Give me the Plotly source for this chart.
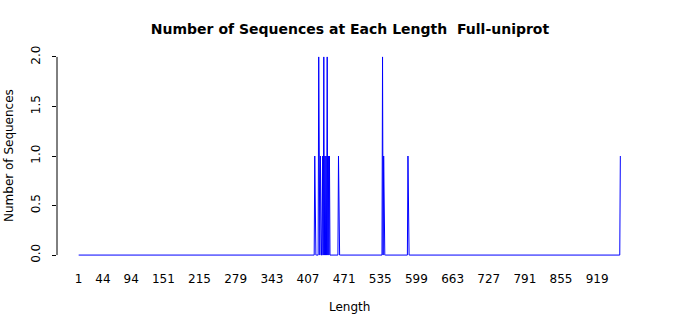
import plotly.graph_objects as go

# Data
spike_lengths = [419, 426, 429, 433, 435, 437, 439, 441, 443, 445, 461, 539, 541, 584, 960]
spike_counts  = [1,   2,   1,   1,   2,   1,   1,   2,   1,   1,   1,   2,   1,   1,   1]
min_length = 1
max_length = 960

x_tick_vals = [1, 44, 94, 151, 215, 279, 343, 407, 471, 535, 599, 663, 727, 791, 855, 919]
y_tick_vals = [0, 0.5, 1.0, 1.5, 2.0]
y_tick_text = ["0.0", "0.5", "1.0", "1.5", "2.0"]

# counts per length (zero where no sequences)
count_map = dict(zip(spike_lengths, spike_counts))
lengths = list(range(min_length, max_length + 1))
counts = [count_map.get(L, 0) for L in lengths]

font_family = "DejaVu Sans"

fig = go.Figure()
fig.add_trace(go.Scatter(
    x=lengths, y=counts, mode="lines",
    line=dict(color="#0000FF", width=1),
    hoverinfo="x+y", showlegend=False,
))

span = max_length - min_length
xr = [min_length - 0.04 * span, max_length + 0.04 * span]
yr = [-0.08, 2.08]

fig.update_layout(
    width=700, height=315,
    margin=dict(l=57, r=58, t=49, b=52),
    paper_bgcolor="white", plot_bgcolor="white",
    font=dict(family=font_family, size=12, color="black"),
    title=dict(
        text="<b>Number of Sequences at Each Length \u00a0Full-uniprot</b>",
        x=0.5, xanchor="center", y=1 - 29 / 315, yanchor="middle",
        font=dict(size=14, family=font_family, color="black"),
    ),
    xaxis=dict(
        range=xr, showgrid=False, zeroline=False, showline=False,
        tickmode="array", tickvals=x_tick_vals,
        ticktext=[str(v) for v in x_tick_vals],
        ticks="", ticklabelstandoff=7,
        tickfont=dict(size=12, color="black"),
    ),
    yaxis=dict(
        range=yr, showgrid=False, zeroline=False, showline=False,
        tickmode="array", tickvals=y_tick_vals, ticktext=y_tick_text,
        ticks="outside", ticklen=4, tickcolor="black", tickwidth=1,
        tickangle=-90, ticklabelstandoff=7,
        tickfont=dict(size=12, color="black"),
    ),
    shapes=[dict(
        type="line", xref="paper", yref="y",
        x0=0, x1=0, y0=0, y1=2,
        line=dict(color="black", width=1),
    )],
    annotations=[
        dict(text="Number of Sequences", xref="paper", yref="paper",
             x=(9 - 57) / 585, y=0.5, xanchor="center", yanchor="middle",
             textangle=-90, showarrow=False,
             font=dict(size=12, family=font_family, color="black")),
        dict(text="Length", xref="paper", yref="paper",
             x=0.5, y=(263 - 307) / 214, xanchor="center", yanchor="middle",
             showarrow=False,
             font=dict(size=12, family=font_family, color="black")),
    ],
)

fig.write_html("out.html")
